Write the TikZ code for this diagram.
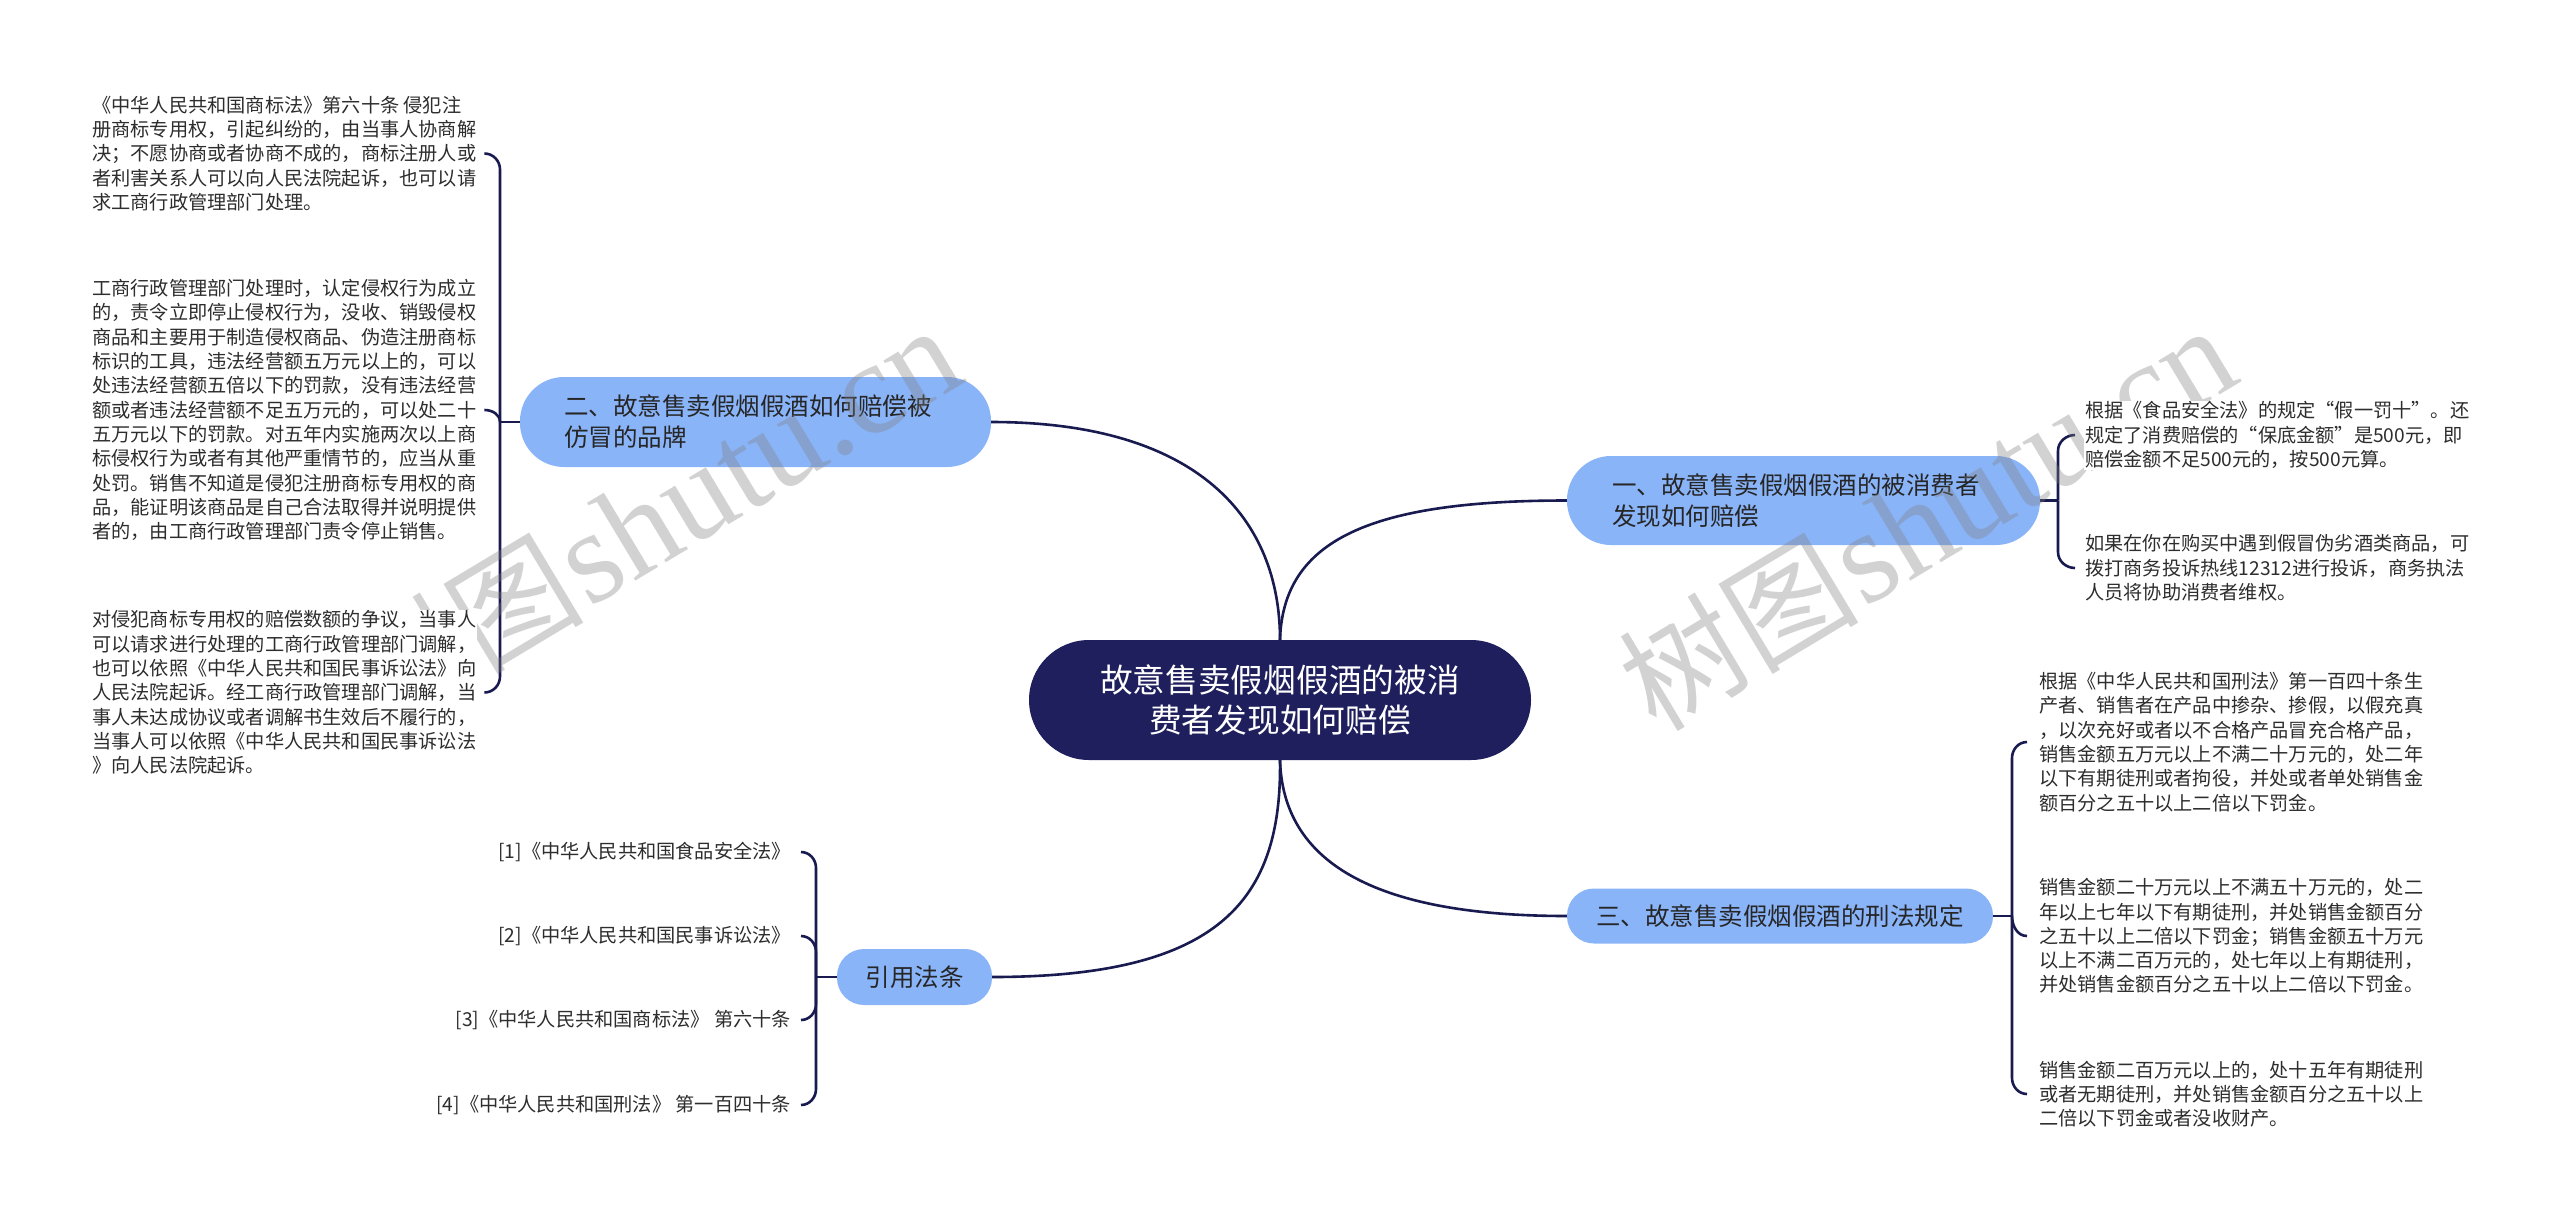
\documentclass[tikz,border=0pt]{standalone}
\usepackage{fontspec}
\setmainfont{Noto Sans CJK SC}
\newfontfamily\wmlatin{Liberation Serif}
\definecolor{navy}{RGB}{30,31,92}
\definecolor{edgec}{RGB}{24,26,80}
\definecolor{branchc}{RGB}{138,180,248}
\definecolor{leaftext}{RGB}{45,45,45}
\pgfdeclarelayer{bg}
\pgfdeclarelayer{wm}
\pgfsetlayers{bg,wm,main}
\begin{document}
\begin{tikzpicture}[x=1pt,y=-1pt,
  conn/.style={draw=edgec,line width=2.6pt},
  mainnode/.style={fill=navy,text=white,rounded corners=60pt,minimum width=502pt,minimum height=120pt,align=center,font=\fontsize{32.7}{40}\selectfont,inner sep=0pt},
  branchnode/.style={fill=branchc,align=left,font=\fontsize{24.5}{31}\selectfont,text=black!85,inner sep=0pt},
  leafl/.style={fill=white,align=left,font=\fontsize{19.2}{24.3}\selectfont,text=leaftext,inner sep=1pt},
  leafr/.style={fill=white,align=right,font=\fontsize{19.2}{24.3}\selectfont,text=leaftext,inner sep=1pt},
  wmark/.style={text=black!50,opacity=0.35,rotate=31,inner sep=0pt}
]
\begin{pgfonlayer}{bg}
\fill[white] (0,0) rectangle (2560,1221);
\node[mainnode] (c) at (1280,700) {故意售卖假烟假酒的被消\\费者发现如何赔偿};
\node[branchnode,minimum width=473pt,minimum height=89pt,text width=383pt,rounded corners=44pt] (n1) at (1803.5,500.5) {一、故意售卖假烟假酒的被消费者\\发现如何赔偿};
\node[branchnode,minimum width=471pt,minimum height=90pt,text width=383pt,rounded corners=44pt] (n2) at (755.5,422) {二、故意售卖假烟假酒如何赔偿被\\仿冒的品牌};
\node[branchnode,minimum width=426pt,minimum height=55pt,rounded corners=27pt] (n3) at (1780,916) {三、故意售卖假烟假酒的刑法规定};
\node[branchnode,minimum width=155pt,minimum height=56pt,rounded corners=27pt] (n4) at (914.5,977) {引用法条};
\end{pgfonlayer}
\useasboundingbox (0,0) rectangle (2560,1221);

% leaves of n2 (left)
\node[leafl,anchor=west] (l21) at (91,153.5) {《中华人民共和国商标法》第六十条 侵犯注\\册商标专用权，引起纠纷的，由当事人协商解\\决；不愿协商或者协商不成的，商标注册人或\\者利害关系人可以向人民法院起诉，也可以请\\求工商行政管理部门处理。};
\node[leafl,anchor=west] (l22) at (91,410) {工商行政管理部门处理时，认定侵权行为成立\\的，责令立即停止侵权行为，没收、销毁侵权\\商品和主要用于制造侵权商品、伪造注册商标\\标识的工具，违法经营额五万元以上的，可以\\处违法经营额五倍以下的罚款，没有违法经营\\额或者违法经营额不足五万元的，可以处二十\\五万元以下的罚款。对五年内实施两次以上商\\标侵权行为或者有其他严重情节的，应当从重\\处罚。销售不知道是侵犯注册商标专用权的商\\品，能证明该商品是自己合法取得并说明提供\\者的，由工商行政管理部门责令停止销售。};
\node[leafl,anchor=west] (l23) at (91,692.5) {对侵犯商标专用权的赔偿数额的争议，当事人\\可以请求进行处理的工商行政管理部门调解，\\也可以依照《中华人民共和国民事诉讼法》向\\人民法院起诉。经工商行政管理部门调解，当\\事人未达成协议或者调解书生效后不履行的，\\当事人可以依照《中华人民共和国民事诉讼法\\》向人民法院起诉。};

% leaves of n1 (right)
\node[leafl,anchor=west] (l11) at (2084,435) {根据《食品安全法》的规定“假一罚十”。还\\规定了消费赔偿的“保底金额”是500元，即\\赔偿金额不足500元的，按500元算。};
\node[leafl,anchor=west] (l12) at (2084,568) {如果在你在购买中遇到假冒伪劣酒类商品，可\\拨打商务投诉热线12312进行投诉，商务执法\\人员将协助消费者维权。};

% leaves of n3 (right)
\node[leafl,anchor=west] (l31) at (2038,742) {根据《中华人民共和国刑法》第一百四十条生\\产者、销售者在产品中掺杂、掺假，以假充真\\，以次充好或者以不合格产品冒充合格产品，\\销售金额五万元以上不满二十万元的，处二年\\以下有期徒刑或者拘役，并处或者单处销售金\\额百分之五十以上二倍以下罚金。};
\node[leafl,anchor=west] (l32) at (2038,936) {销售金额二十万元以上不满五十万元的，处二\\年以上七年以下有期徒刑，并处销售金额百分\\之五十以上二倍以下罚金；销售金额五十万元\\以上不满二百万元的，处七年以上有期徒刑，\\并处销售金额百分之五十以上二倍以下罚金。};
\node[leafl,anchor=west] (l33) at (2038,1094) {销售金额二百万元以上的，处十五年有期徒刑\\或者无期徒刑，并处销售金额百分之五十以上\\二倍以下罚金或者没收财产。};

% leaves of n4 (left, right aligned)
\node[leafr,anchor=east] (l41) at (792,852) {[1]《中华人民共和国食品安全法》};
\node[leafr,anchor=east] (l42) at (792,936) {[2]《中华人民共和国民事诉讼法》};
\node[leafr,anchor=east] (l43) at (792,1020) {[3]《中华人民共和国商标法》 第六十条};
\node[leafr,anchor=east] (l44) at (792,1105) {[4]《中华人民共和国刑法》 第一百四十条};

\coordinate (b1) at (2058,500.5);
\coordinate (b2) at (500,422);
\coordinate (b3) at (2012,916);
\coordinate (b4) at (816,977);

\begin{pgfonlayer}{bg}
% main connectors
\draw[conn] (n2.east) .. controls (1200,422) and (1280,520) .. (c.north);
\draw[conn] (c.north) .. controls (1283,540) and (1370,500.5) .. (n1.west);
\draw[conn] (c.south) .. controls (1283,860) and (1370,916) .. (n3.west);
\draw[conn] (c.south) .. controls (1282,900) and (1220,977) .. (n4.east);

% n2 bracket
\draw[conn] (n2.west) -- (b2);
\draw[conn] (b2) -- ([yshift=-16pt]b2 |- l21.east) to[out=90,in=0] ([xshift=7pt]l21.east);
\draw[conn] (b2) to[out=90,in=0] ([xshift=7pt]l22.east);
\draw[conn] (b2) -- ([yshift=16pt]b2 |- l23.east) to[out=-90,in=0] ([xshift=7pt]l23.east);

% n1 bracket
\draw[conn] (n1.east) -- (b1);
\draw[conn] (b1) -- ([yshift=-16pt]b1 |- l11.west) to[out=90,in=180] ([xshift=-9pt]l11.west);
\draw[conn] (b1) -- ([yshift=16pt]b1 |- l12.west) to[out=-90,in=180] ([xshift=-9pt]l12.west);

% n3 bracket
\draw[conn] (n3.east) -- (b3);
\draw[conn] (b3) -- ([yshift=-16pt]b3 |- l31.west) to[out=90,in=180] ([xshift=-11pt]l31.west);
\draw[conn] (b3) to[out=-90,in=180] ([xshift=-11pt]l32.west);
\draw[conn] (b3) -- ([yshift=16pt]b3 |- l33.west) to[out=-90,in=180] ([xshift=-11pt]l33.west);

% n4 bracket
\draw[conn] (n4.west) -- (b4);
\draw[conn] (b4) -- ([yshift=-16pt]b4 |- l41.east) to[out=90,in=0] ([xshift=9pt]l41.east);
\draw[conn] (b4) -- ([yshift=-16pt]b4 |- l42.east) to[out=90,in=0] ([xshift=9pt]l42.east);
\draw[conn] (b4) -- ([yshift=16pt]b4 |- l43.east) to[out=-90,in=0] ([xshift=9pt]l43.east);
\draw[conn] (b4) -- ([yshift=16pt]b4 |- l44.east) to[out=-90,in=0] ([xshift=9pt]l44.east);
\end{pgfonlayer}

\begin{pgfonlayer}{wm}
\node[wmark] (wm1) at (1927,518) {{\fontsize{120}{120}\selectfont 树图} {\wmlatin\fontsize{132}{132}\selectfont shutu.cn}};
\node[wmark] (wm2) at (652,518) {{\fontsize{120}{120}\selectfont 树图} {\wmlatin\fontsize{132}{132}\selectfont shutu.cn}};
\end{pgfonlayer}
\end{tikzpicture}
\end{document}
